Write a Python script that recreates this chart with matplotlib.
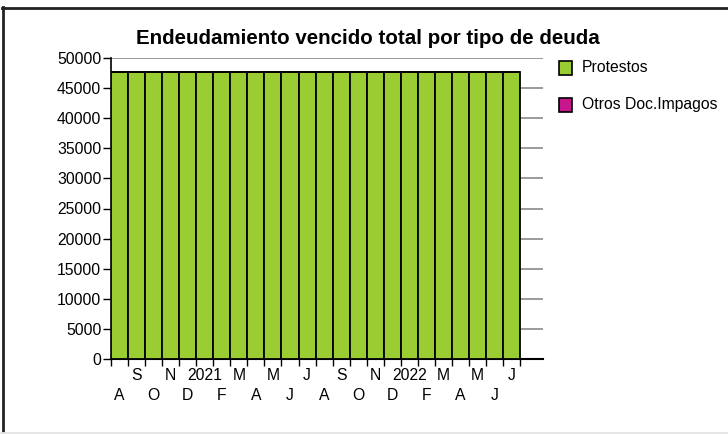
import matplotlib
matplotlib.use("Agg")
import matplotlib.pyplot as plt
from matplotlib import font_manager
from matplotlib.patches import Rectangle
from matplotlib.lines import Line2D

months = ["A", "S", "O", "N", "D", "2021", "F", "M", "A", "M", "J", "J",
          "A", "S", "O", "N", "D", "2022", "F", "M", "A", "M", "J", "J"]
protestos = [47600] * 24
otros = [0] * 24
series_names = ["Protestos", "Otros Doc.Impagos"]
series_colors = ["#9ACD32", "#C8168C"]
yticks = list(range(0, 50001, 5000))

available = {f.name for f in font_manager.fontManager.ttflist}
if "Liberation Sans Narrow" in available:
    BASE = "Liberation Sans Narrow"
    FS = 13
    TFS = 16
else:
    BASE = "Liberation Sans"
    FS = 11.3
    TFS = 14.8
plt.rcParams["font.family"] = [BASE, "DejaVu Sans"]

W, H = 728, 434
fig = plt.figure(figsize=(W / 100, H / 100), dpi=100)
fig.patch.set_facecolor("white")

ax = fig.add_axes([111 / W, 1 - 359 / H, (543 - 111) / W, (359 - 58) / H])
ax.set_facecolor("white")

x = list(range(len(months)))
ax.bar(x, protestos, width=1, align="edge", color=series_colors[0],
       edgecolor="black", linewidth=1.3, zorder=3)
ax.bar(x, otros, width=1, bottom=protestos, align="edge", color=series_colors[1],
       edgecolor="black", linewidth=1.3, zorder=3)

ax.set_xlim(0, 25.34)
ax.set_ylim(0, 50000)
ax.set_yticks(yticks)
ax.set_yticklabels([str(v) for v in yticks], fontsize=FS)
ax.tick_params(axis="y", direction="out", length=6, width=1, pad=1, colors="black")

for v in yticks[1:]:
    ax.axhline(v, color="#8a8a8a", lw=1.2, zorder=1)

# boundary ticks (marks only)
ax.set_xticks(range(0, len(months) + 1))
ax.set_xticklabels([])
ax.tick_params(axis="x", which="major", direction="out", length=5, width=1)

# top row labels (odd positions)
odd = [i for i in x if i % 2 == 1]
ax.set_xticks([i + 0.5 for i in odd], minor=True)
ax.set_xticklabels([months[i] for i in odd], minor=True, fontsize=FS)
ax.tick_params(axis="x", which="minor", length=0, pad=6.8)

# bottom row labels (even positions)
even = [i for i in x if i % 2 == 0]
sec = ax.secondary_xaxis("bottom")
sec.set_xticks([i + 0.5 for i in even])
sec.set_xticklabels([months[i] for i in even], fontsize=FS)
sec.tick_params(axis="x", length=0, pad=21.2)
sec.spines["bottom"].set_visible(False)

for s in ["top", "right"]:
    ax.spines[s].set_visible(False)
ax.spines["left"].set_linewidth(1.2)
ax.spines["bottom"].set_linewidth(1.5)

fig.text(368 / W, 1 - 43.5 / H, "Endeudamiento vencido total por tipo de deuda",
         ha="center", va="baseline", fontsize=TFS, fontweight="bold")

# legend
leg_y = [68, 105]
for name, col, yc in zip(series_names, series_colors, leg_y):
    fig.add_artist(Rectangle((559 / W, 1 - (yc + 7) / H), 13 / W, 14 / H,
                             facecolor=col, edgecolor="black", lw=1.2,
                             transform=fig.transFigure))
    fig.text(582 / W, 1 - yc / H, name, ha="left", va="center", fontsize=FS)

# frame
fig.add_artist(Line2D([2.5 / W, 2.5 / W], [0, 1 - 7 / H], color="#222222", lw=2,
                      transform=fig.transFigure))
fig.add_artist(Line2D([2 / W, 1], [1 - 7.5 / H, 1 - 7.5 / H], color="#222222", lw=2,
                      transform=fig.transFigure))
fig.add_artist(Line2D([0, 1], [1.5 / H, 1.5 / H], color="#e6e6e6", lw=2,
                      transform=fig.transFigure))

fig.savefig("out.png", dpi=100)
